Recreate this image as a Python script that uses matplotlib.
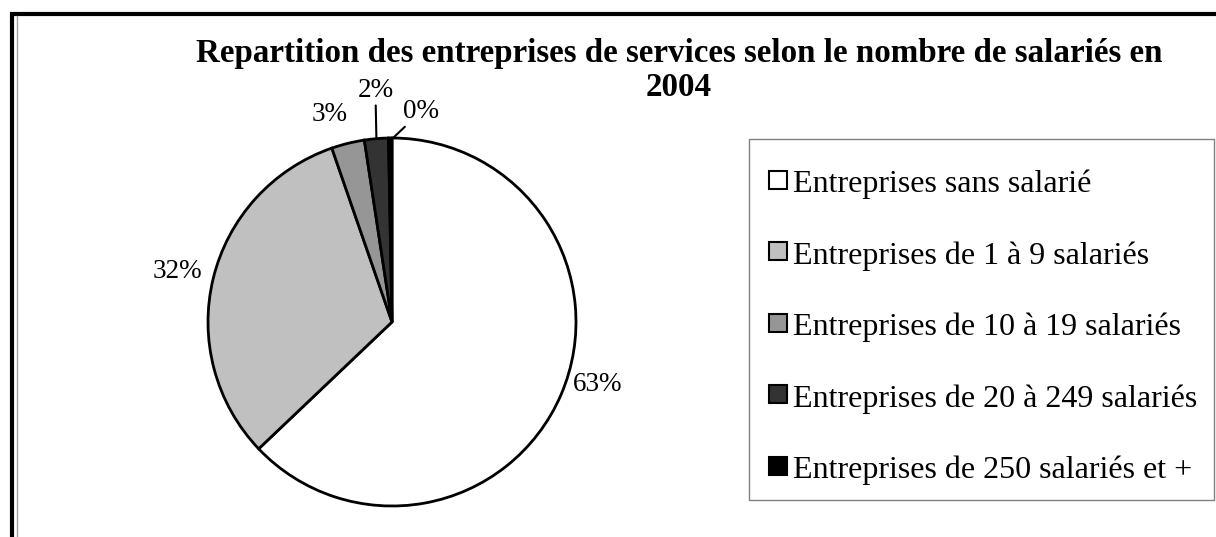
import numpy as np
import matplotlib
matplotlib.use('Agg')
import matplotlib.pyplot as plt
from matplotlib.patches import Rectangle
from matplotlib.lines import Line2D

categories = ['Entreprises sans salarié',
              'Entreprises de 1 à 9 salariés',
              'Entreprises de 10 à 19 salariés',
              'Entreprises de 20 à 249 salariés',
              'Entreprises de 250 salariés et +']
shares = [62.9, 31.8, 2.9, 2.1, 0.3]
colors = ['#FFFFFF', '#C0C0C0', '#969696', '#333333', '#000000']
title_lines = ['Repartition des entreprises de services selon le nombre de salariés en', '2004']

plt.rcParams['font.family'] = ['Liberation Serif', 'DejaVu Serif']

W, H = 1216, 537
fig = plt.figure(figsize=(W / 100, H / 100), dpi=100)
ax = fig.add_axes([0, 0, 1, 1])

# outer frame (cut off on right/bottom)
ax.add_patch(Rectangle((12, -20), W + 40, H - 14 + 20, fill=False, lw=3, ec='black'))
ax.plot([16.5, 16.5], [0, H - 16], color='#A0A0A0', lw=1)

cx, cy, r = 392, H - 322, 184
wedges, _ = ax.pie(shares, colors=colors, startangle=90, counterclock=False,
                   center=(cx, cy), radius=r, frame=True,
                   wedgeprops=dict(edgecolor='black', linewidth=2))
ax.set_xlim(0, W)
ax.set_ylim(0, H)
ax.set_aspect('equal')
ax.axis('off')

# percentage labels: (angle nudge in deg, distance in radii) or leader-line offsets
nudges  = {0: (6.4, 1.17), 1: (0.5, 1.195), 2: (3.0, 1.176)}
leaders = {3: (-1, 36, 'center'), 4: (10, 14, 'left')}
for i, w in enumerate(wedges):
    mid = (w.theta1 + w.theta2) / 2
    txt = '{:.0f}%'.format(shares[i])
    if i in leaders:
        a = np.deg2rad(mid)
        ex, ey = cx + r * np.cos(a), cy + r * np.sin(a)
        if i == 4:
            ex = cx + 1
        dx, dy, ha = leaders[i]
        ax.annotate(txt, xy=(ex, ey), xytext=(ex + dx, ey + dy),
                    ha=ha, va='bottom', fontsize=19.5,
                    arrowprops=dict(arrowstyle='-', lw=1.5, color='black',
                                    shrinkA=0, shrinkB=0))
    else:
        da, d = nudges[i]
        a = np.deg2rad(mid + da)
        ax.text(cx + d * r * np.cos(a), cy + d * r * np.sin(a), txt,
                ha='center', va='center', fontsize=19.5)

# title, one text per line
for line, y in zip(title_lines, [53, 87]):
    fig.text(679 / W, 1 - y / H, line, ha='center', va='center',
             fontsize=23.8, fontweight='bold')

# legend box drawn separately so padding can match
ax.add_patch(Rectangle((749, H - 500), 465, 361, fill=False, lw=1, ec='#808080'))
handles = [Line2D([], [], ls='', marker='s', markersize=13, markerfacecolor=c,
                  markeredgecolor='black', markeredgewidth=1.5) for c in colors]
leg = fig.legend(handles, categories, loc='upper left',
                 bbox_to_anchor=(769 / W, 1 - 167 / H), fontsize=23,
                 frameon=False, handlelength=0.55, handleheight=1.0,
                 handletextpad=0.2, labelspacing=1.23, borderpad=0,
                 borderaxespad=0)

fig.savefig('out.png', dpi=100)
